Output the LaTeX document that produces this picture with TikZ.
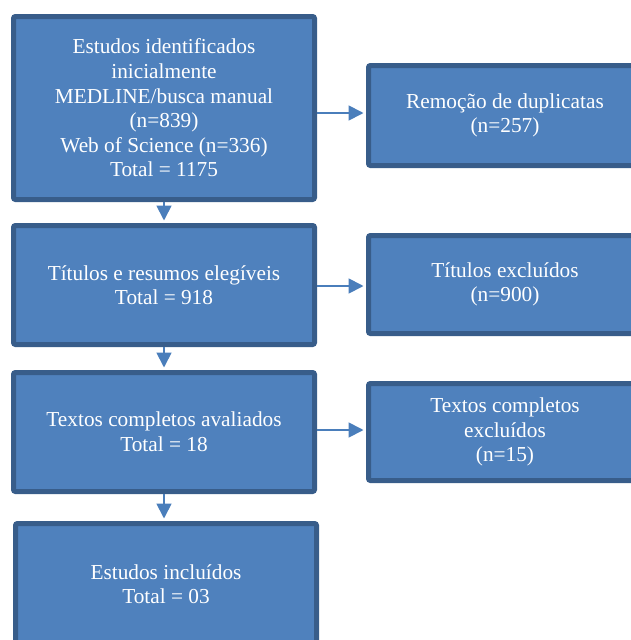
\documentclass[tikz,border=0pt]{standalone}
\usepackage{fontspec}
\setmainfont{Liberation Serif}
\usetikzlibrary{arrows.meta}
\definecolor{boxfill}{HTML}{4F81BD}
\definecolor{boxline}{HTML}{385D8A}
\definecolor{arrcol}{HTML}{4A7EBB}
\tikzset{
  flowbox/.style={draw=boxline, fill=boxfill, line width=5pt, rounded corners=2pt,
    text=white, align=center, inner sep=0pt,
    font=\fontsize{21.3}{24.6}\selectfont},
  arr/.style={draw=arrcol, line width=1.8pt, -{Triangle[width=15pt,length=15pt]}, shorten >=2.5pt}
}
\begin{document}
\begin{tikzpicture}[x=1pt,y=-1pt]
\useasboundingbox (0,0) rectangle (631,640);
\clip (0,0) rectangle (631,640);
\node[flowbox, minimum width=301pt, minimum height=183pt] (b1) at (164,108)
  {Estudos identificados\\inicialmente\\MEDLINE/busca manual\\(n=839)\\Web of Science (n=336)\\Total = 1175};
\node[flowbox, minimum width=273pt, minimum height=100pt] (b2) at (505,115.5)
  {Remoção de duplicatas\\(n=257)};
\node[flowbox, minimum width=301pt, minimum height=119pt] (b3) at (164,285)
  {Títulos e resumos elegíveis\\Total = 918};
\node[flowbox, minimum width=273pt, minimum height=98pt] (b4) at (505,284.5)
  {Títulos excluídos\\(n=900)};
\node[flowbox, minimum width=301pt, minimum height=119pt] (b5) at (164,432)
  {Textos completos avaliados\\Total = 18};
\node[flowbox, minimum width=273pt, minimum height=97pt] (b6) at (505,432)
  {Textos completos\\excluídos\\(n=15)};
\node[flowbox, minimum width=301pt, minimum height=121pt] (b7) at (166,584)
  {Estudos incluídos\\Total = 03};
\coordinate (t2) at ([yshift=2.5pt]b2.west);
\coordinate (t4) at ([yshift=-1.5pt]b4.west);
\coordinate (t6) at ([yshift=2pt]b6.west);
\draw[arr] (b1.east |- t2) -- (t2);
\draw[arr] (b3.east |- t4) -- (t4);
\draw[arr] (b5.east |- t6) -- (t6);
\draw[arr] (b1.south) -- (b3.north);
\draw[arr] (b3.south) -- (b5.north);
\draw[arr] (b5.south) -- (b5.south |- b7.north);
\end{tikzpicture}
\end{document}
